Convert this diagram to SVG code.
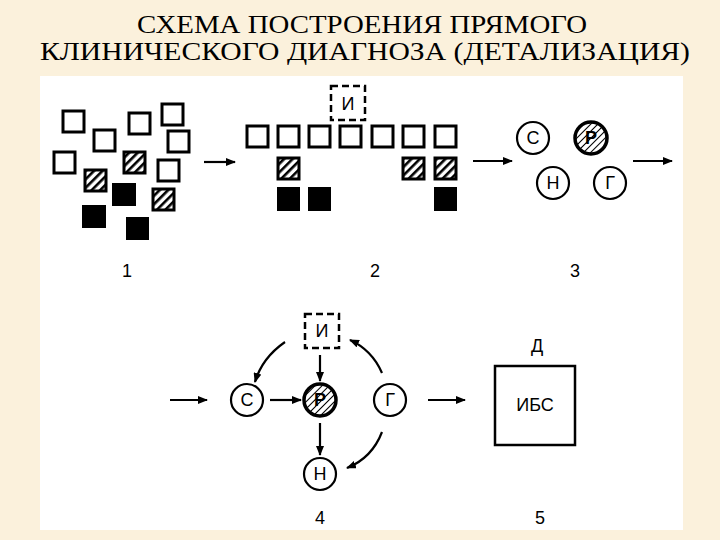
<svg xmlns="http://www.w3.org/2000/svg" width="720" height="540" viewBox="0 0 720 540">
<defs>
<pattern id="h" patternUnits="userSpaceOnUse" width="6" height="6" patternTransform="rotate(45)"><rect width="6" height="6" fill="#fff"/><rect width="2.6" height="6" fill="#000"/></pattern>
<pattern id="h2" patternUnits="userSpaceOnUse" width="5" height="5" patternTransform="rotate(45)"><rect width="5" height="5" fill="#fff"/><rect width="1" height="5" fill="#000"/></pattern>
<marker id="a" markerWidth="10" markerHeight="8" refX="9" refY="4" orient="auto" markerUnits="userSpaceOnUse"><path d="M0,0 L10,4 L0,8 Z" fill="#000"/></marker>
</defs>
<style>
.s{fill:#fff;stroke:#000;stroke-width:3}
.hs{fill:url(#h);stroke:#000;stroke-width:3}
.b{fill:#000}
.d{fill:#fff;stroke:#000;stroke-width:2.5;stroke-dasharray:7,4}
.c{fill:#fff;stroke:#000;stroke-width:2.2}
.cr{fill:url(#h2);stroke:#000;stroke-width:3.5}
.t{font-family:"Liberation Sans",Arial,sans-serif;font-size:18px;fill:#000;text-anchor:middle}
.ti{font-family:"Liberation Serif","Times New Roman",serif;font-size:26px;fill:#000;text-anchor:middle}
.ln{stroke:#000;stroke-width:2.2;fill:none;marker-end:url(#a)}
</style>
<rect width="720" height="540" fill="#FBF1DC"/>
<rect x="40" y="76" width="643" height="454" fill="#fff"/>
<text class="ti" x="362" y="33" textLength="450" lengthAdjust="spacingAndGlyphs">СХЕМА ПОСТРОЕНИЯ ПРЯМОГО</text>
<text class="ti" x="365" y="60" textLength="650" lengthAdjust="spacingAndGlyphs">КЛИНИЧЕСКОГО ДИАГНОЗА (ДЕТАЛИЗАЦИЯ)</text>
<g id="group1">
<rect class="s" x="63" y="111" width="21" height="21"/>
<rect class="s" x="94" y="130" width="21" height="21"/>
<rect class="s" x="129" y="113" width="21" height="21"/>
<rect class="s" x="162" y="104" width="21" height="21"/>
<rect class="s" x="168" y="131" width="21" height="21"/>
<rect class="s" x="54" y="152" width="21" height="21"/>
<rect class="hs" x="124" y="152" width="21" height="21"/>
<rect class="s" x="158" y="160" width="21" height="21"/>
<rect class="hs" x="85" y="170" width="21" height="21"/>
<rect class="b" x="112" y="183" width="24" height="23"/>
<rect class="hs" x="153" y="189" width="21" height="21"/>
<rect class="b" x="82" y="205" width="24" height="23"/>
<rect class="b" x="126" y="217" width="23" height="23"/>
<text class="t" x="127" y="277">1</text>
</g>
<g id="group2">
<rect class="d" x="331" y="86" width="34" height="34"/>
<text class="t" x="348" y="110">И</text>
<rect class="s" x="247" y="126" width="21" height="21"/>
<rect class="s" x="278" y="126" width="21" height="21"/>
<rect class="s" x="309" y="126" width="21" height="21"/>
<rect class="s" x="340" y="126" width="21" height="21"/>
<rect class="s" x="372" y="126" width="21" height="21"/>
<rect class="s" x="403" y="126" width="21" height="21"/>
<rect class="s" x="435" y="126" width="21" height="21"/>
<rect class="hs" x="278" y="158" width="21" height="21"/>
<rect class="hs" x="403" y="158" width="21" height="21"/>
<rect class="hs" x="435" y="158" width="21" height="21"/>
<rect class="b" x="277" y="187" width="23" height="24"/>
<rect class="b" x="308" y="187" width="23" height="24"/>
<rect class="b" x="434" y="187" width="23" height="24"/>
<text class="t" x="375" y="277">2</text>
</g>
<g id="group3">
<circle class="c" cx="533" cy="138" r="16"/><text class="t" x="533" y="144">С</text>
<circle class="cr" cx="591" cy="138" r="16"/><text class="t" x="591" y="144" font-weight="bold">Р</text>
<circle class="c" cx="553" cy="183" r="16"/><text class="t" x="553" y="189">Н</text>
<circle class="c" cx="610" cy="183" r="16"/><text class="t" x="610" y="189">Г</text>
<text class="t" x="575" y="277">3</text>
</g>
<g id="group4">
<rect class="d" x="305" y="314" width="34" height="34"/><text class="t" x="322" y="337">И</text>
<circle class="c" cx="247" cy="400" r="16"/><text class="t" x="247" y="406">С</text>
<circle class="cr" cx="320" cy="400" r="16"/><text class="t" x="320" y="406" font-weight="bold">Р</text>
<circle class="c" cx="390" cy="400" r="16"/><text class="t" x="390" y="406">Г</text>
<circle class="c" cx="320" cy="474" r="16"/><text class="t" x="320" y="480">Н</text>
<text class="t" x="320" y="524">4</text>
</g>
<g id="group5">
<text class="t" x="537" y="352">Д</text>
<rect x="495" y="366" width="80" height="79" fill="#fff" stroke="#000" stroke-width="2.5"/>
<text class="t" x="535" y="411" font-size="16">ИБС</text>
<text class="t" x="540" y="524">5</text>
</g>
<g id="connectors">
<line class="ln" x1="204" y1="162" x2="235" y2="162"/>
<line class="ln" x1="473" y1="161" x2="512" y2="161"/>
<line class="ln" x1="633" y1="161" x2="672" y2="161"/>
<line class="ln" x1="170" y1="400" x2="207" y2="400"/>
<line class="ln" x1="270" y1="400" x2="301" y2="400"/>
<line class="ln" x1="320" y1="355" x2="320" y2="381"/>
<line class="ln" x1="320" y1="423" x2="320" y2="455"/>
<path class="ln" d="M285,342 Q262,358 255,382"/>
<path class="ln" d="M382,373 Q372,350 350,340"/>
<path class="ln" d="M382,432 Q372,458 347,468"/>
<line class="ln" x1="428" y1="400" x2="465" y2="400"/>
</g>
</svg>
